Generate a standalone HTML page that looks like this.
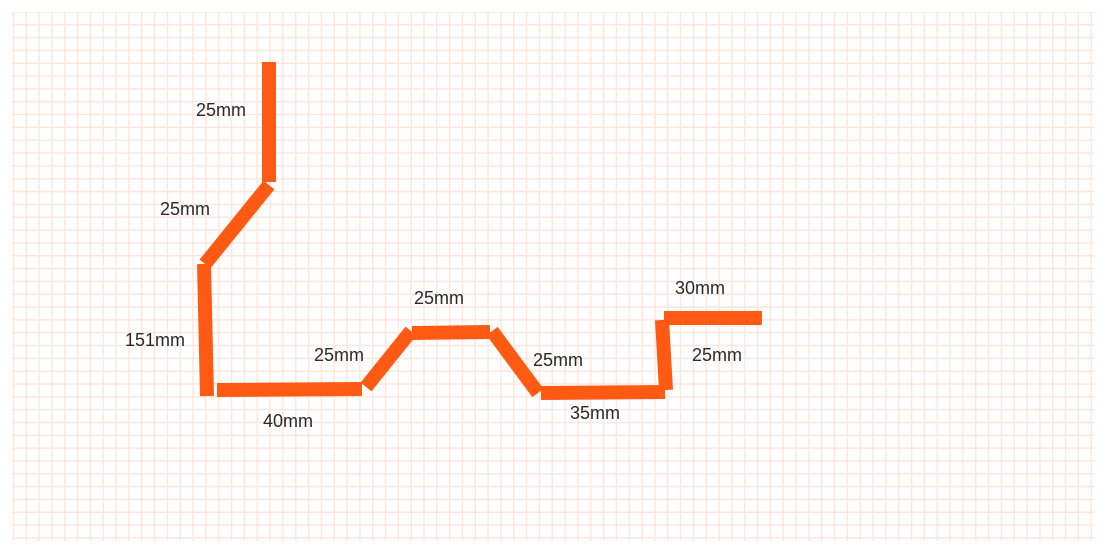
<!DOCTYPE html>
<html><head><meta charset="utf-8"><style>
html,body{margin:0;padding:0;background:#fff;width:1105px;height:551px;overflow:hidden}
svg{display:block}
text{font-family:"Liberation Sans",sans-serif;font-size:18px;fill:#2a2a2a}
</style></head><body>
<svg id="c" width="1105" height="551">
<defs>
<pattern id="g" x="12.7" y="11.2" width="12.83" height="12.83" patternUnits="userSpaceOnUse">
<path d="M0.75 0V12.83M0 0.75H12.83" stroke="#fde7dc" stroke-width="1.5" fill="none"/>
</pattern>
</defs>
<rect x="12" y="12" width="1082" height="529" fill="url(#g)"/>
<g id="segs"></g>
<g id="labs"></g>
</svg>
<script>
const segStartX=[269,269,204,217,366,412,492,541,666,664];
const segStartY=[62,185,264,390,387,333,331,393,390,318];
const segEndX=[269,205,207,362,411,490,538,665,662,762];
const segEndY=[182,264,396,389,331,332,393,392,320,318];
const labelText=["25mm","25mm","151mm","40mm","25mm","25mm","25mm","35mm","30mm","25mm"];
const labelX=[221,185,155,288,339,439,558,595,700,717];
const labelY=[110,209,340,421,355,298,360,413,288,355];
const ns="http://www.w3.org/2000/svg";
const sg=document.getElementById('segs'),lg=document.getElementById('labs');
for(let i=0;i<segStartX.length;i++){
  const l=document.createElementNS(ns,'line');
  l.setAttribute('x1',segStartX[i]);l.setAttribute('y1',segStartY[i]);
  l.setAttribute('x2',segEndX[i]);l.setAttribute('y2',segEndY[i]);
  l.setAttribute('stroke','#ff5a14');l.setAttribute('stroke-width','14');
  
  
  sg.appendChild(l);
}
for(let i=0;i<labelText.length;i++){
  const t=document.createElementNS(ns,'text');
  t.setAttribute('x',labelX[i]);t.setAttribute('y',labelY[i]+6);
  t.setAttribute('text-anchor','middle');
  t.textContent=labelText[i];
  
  
  lg.appendChild(t);
}
</script>
</body></html>
